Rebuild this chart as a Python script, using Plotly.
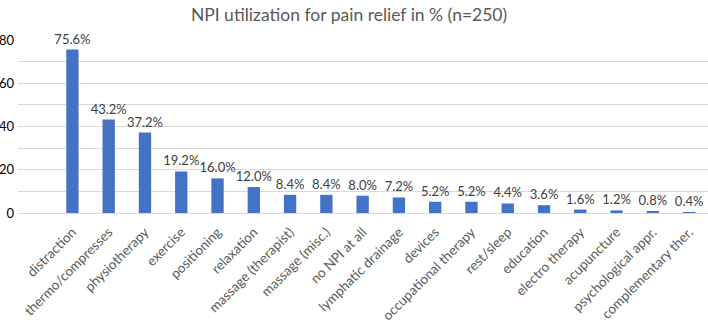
import plotly.graph_objects as go

categories = ["distraction", "thermo/compresses", "physiotherapy", "exercise", "positioning",
              "relaxation", "massage (therapist)", "massage (misc.)", "no NPI at all",
              "lymphatic drainage", "devices", "occupational therapy", "rest/sleep",
              "education", "electro therapy", "acupuncture", "psychological appr.",
              "complementary ther."]
values = [75.6, 43.2, 37.2, 19.2, 16.0, 12.0, 8.4, 8.4, 8.0, 7.2, 5.2, 5.2, 4.4, 3.6, 1.6, 1.2, 0.8, 0.4]
title_text = "NPI utilization for pain relief in % (n=250)"

FONT = "Lato, Open Sans, sans-serif"

fig = go.Figure(go.Bar(
    x=list(range(len(categories))),
    y=values,
    marker=dict(color="#4472C4", line=dict(width=0)),
    width=0.34,
    texttemplate="%{y:.1f}%",
    textposition="outside",
    constraintext="none",
    textfont=dict(size=13, color="#404040", family=FONT),
    cliponaxis=False,
))

fig.update_layout(
    width=708, height=323,
    margin=dict(l=18, r=0, t=40, b=110),
    paper_bgcolor="white", plot_bgcolor="white",
    showlegend=False,
    title=dict(text=title_text, x=0.493, xanchor="center", y=0.955, yanchor="middle",
               font=dict(size=17.5, color="#595959", family=FONT)),
    font=dict(family=FONT),
)
fig.update_xaxes(
    tickmode="array", tickvals=list(range(len(categories))), ticktext=categories,
    tickangle=-45, range=[-1.5, 17.52], automargin=False, ticklabelstandoff=5,
    tickfont=dict(size=13.5, color="#595959", family=FONT),
    showgrid=False, zeroline=False, showline=True, linecolor="#d9d9d9", linewidth=1,
)
fig.update_yaxes(
    range=[0, 80], dtick=20, tick0=0, automargin=False,
    tickfont=dict(size=13, color="#000000", family=FONT),
    showgrid=True, gridcolor="#d9d9d9", gridwidth=1,
    minor=dict(dtick=10, showgrid=True, gridcolor="#d9d9d9", gridwidth=1),
    zeroline=False, showline=False, ticklabelstandoff=3,
)

fig.write_html("out.html", config={"displayModeBar": False},
               post_script="document.body.style.margin='0';document.body.style.overflow='hidden';")
